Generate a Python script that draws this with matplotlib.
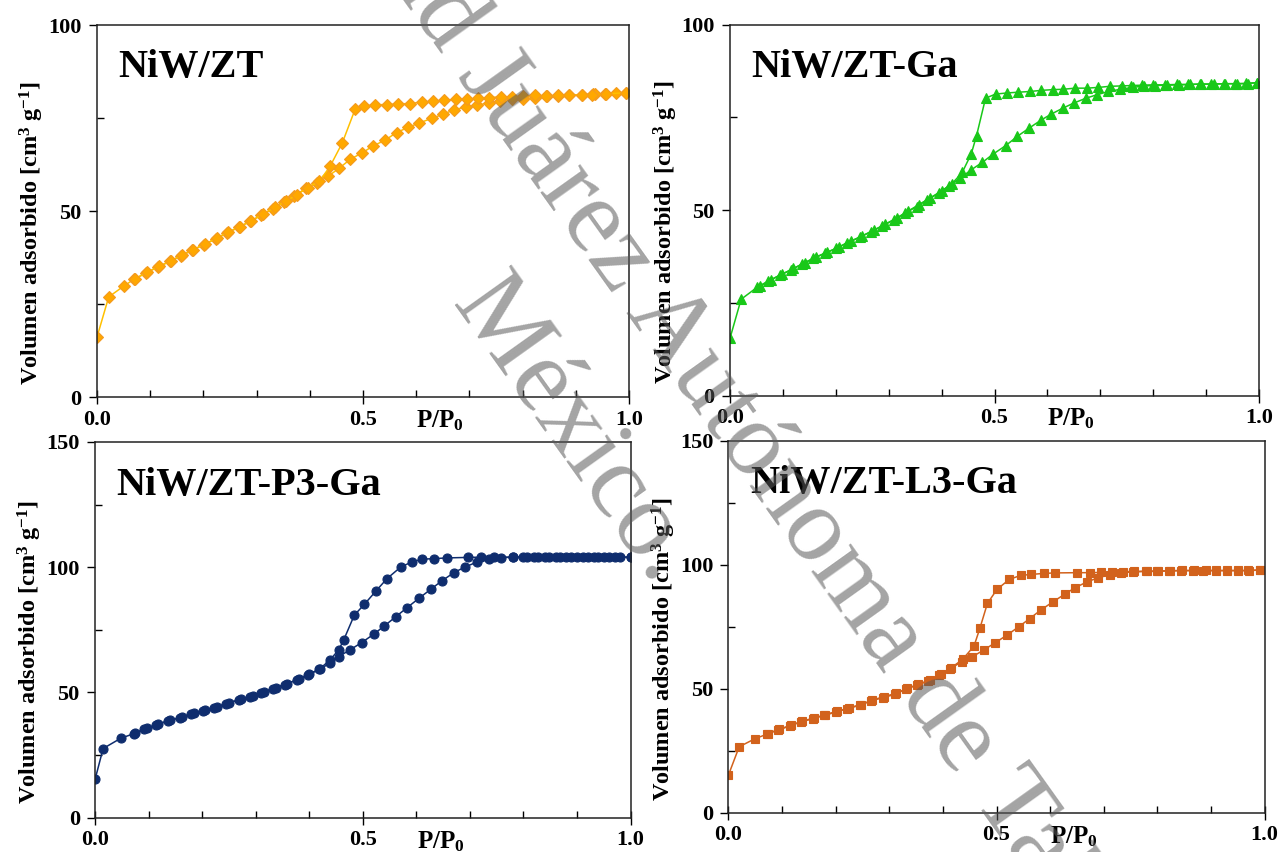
import matplotlib
matplotlib.use('Agg')
from matplotlib import pyplot as plt
from matplotlib.ticker import MultipleLocator, FormatStrFormatter

plt.rcParams['font.family'] = ['Liberation Serif', 'DejaVu Serif']
plt.rcParams['font.weight'] = 'bold'
plt.rcParams['mathtext.fontset'] = 'custom'
plt.rcParams['mathtext.rm'] = 'Liberation Serif:bold'
plt.rcParams['mathtext.it'] = 'Liberation Serif:bold'
plt.rcParams['mathtext.bf'] = 'Liberation Serif:bold'

# NiW/ZT
ads_x_zt = [0.0, 0.022, 0.05, 0.069, 0.092, 0.115, 0.137, 0.158, 0.179, 0.201, 0.223, 0.245, 0.266, 0.288,
            0.309, 0.331, 0.352, 0.371, 0.392, 0.414, 0.435, 0.455, 0.476, 0.499, 0.519, 0.542, 0.563, 0.585,
            0.606, 0.629, 0.650, 0.671, 0.693, 0.714, 0.736, 0.758, 0.780, 0.800, 0.823, 0.845, 0.867, 0.888,
            0.911, 0.933, 0.955, 0.975, 0.994]
ads_y_zt = [16.1, 26.9, 29.8, 31.6, 33.4, 35.0, 36.5, 38.0, 39.5, 41.0, 42.5, 44.1, 45.6, 47.2,
            48.9, 50.6, 52.4, 54.0, 56.1, 57.6, 59.4, 61.5, 63.9, 65.7, 67.5, 69.1, 71.1, 72.5,
            73.7, 74.9, 76.0, 77.2, 78.0, 78.4, 79.1, 79.6, 80.0, 80.2, 80.5, 80.8, 81.0, 81.1,
            81.3, 81.4, 81.5, 81.6, 81.8]
des_x_zt = [0.994, 0.957, 0.936, 0.930, 0.911, 0.888, 0.867, 0.843, 0.823, 0.801, 0.780, 0.759, 0.737, 0.717,
            0.696, 0.674, 0.652, 0.631, 0.610, 0.588, 0.566, 0.545, 0.523, 0.502, 0.485, 0.461, 0.438, 0.418,
            0.396, 0.375, 0.355, 0.335, 0.312, 0.290, 0.268, 0.246, 0.225, 0.203, 0.181, 0.160, 0.139, 0.117,
            0.094, 0.072]
des_y_zt = [81.8, 81.5, 81.4, 81.3, 81.3, 81.2, 81.1, 80.9, 81.1, 80.9, 80.7, 80.7, 80.5, 80.3,
            80.0, 80.0, 79.8, 79.5, 79.3, 78.9, 78.8, 78.6, 78.6, 78.2, 77.3, 68.3, 62.0, 58.0,
            56.3, 54.3, 52.7, 51.0, 49.2, 47.4, 45.8, 44.3, 42.7, 41.1, 39.6, 38.1, 36.6, 35.1,
            33.5, 31.8]

# NiW/ZT-Ga
ads_x_ga = [0.0, 0.021, 0.051, 0.071, 0.094, 0.115, 0.136, 0.157, 0.179, 0.201, 0.222, 0.245, 0.266, 0.288,
            0.310, 0.331, 0.353, 0.373, 0.395, 0.414, 0.435, 0.456, 0.477, 0.498, 0.521, 0.543, 0.565, 0.587,
            0.607, 0.629, 0.650, 0.673, 0.693, 0.715, 0.738, 0.761, 0.782, 0.803, 0.826, 0.849, 0.870, 0.891,
            0.914, 0.936, 0.959, 0.979, 0.997]
ads_y_ga = [15.5, 26.0, 29.2, 30.8, 32.5, 33.9, 35.5, 37.0, 38.4, 39.7, 41.3, 42.7, 44.2, 45.8,
            47.4, 49.2, 51.0, 52.8, 54.6, 56.6, 58.6, 60.9, 62.9, 65.2, 67.4, 69.9, 72.1, 74.2,
            75.9, 77.5, 78.9, 80.2, 81.1, 82.0, 82.6, 83.1, 83.5, 83.6, 83.7, 83.8, 83.9, 84.0,
            84.0, 84.1, 84.1, 84.1, 84.4]
des_x_ga = [0.997, 0.975, 0.955, 0.933, 0.910, 0.888, 0.866, 0.845, 0.823, 0.800, 0.778, 0.757, 0.740, 0.718,
            0.696, 0.674, 0.652, 0.630, 0.610, 0.588, 0.567, 0.544, 0.523, 0.502, 0.483, 0.466, 0.456, 0.439,
            0.420, 0.400, 0.378, 0.357, 0.336, 0.315, 0.293, 0.272, 0.250, 0.228, 0.206, 0.184, 0.162, 0.141,
            0.120, 0.099, 0.077, 0.056]
des_y_ga = [84.4, 84.2, 84.1, 84.1, 84.0, 84.0, 83.9, 83.9, 83.8, 83.8, 83.7, 83.6, 83.5, 83.4,
            83.1, 82.9, 82.9, 82.6, 82.5, 82.3, 82.0, 81.8, 81.6, 81.3, 80.2, 70.1, 65.2, 60.2,
            57.2, 55.2, 53.3, 51.5, 49.7, 47.9, 46.2, 44.6, 43.1, 41.6, 40.1, 38.7, 37.3, 35.8,
            34.3, 32.8, 31.2, 29.5]

# NiW/ZT-P3-Ga
ads_x_p3 = [0.0, 0.015, 0.048, 0.072, 0.091, 0.114, 0.136, 0.158, 0.179, 0.201, 0.223, 0.245, 0.268, 0.289,
            0.310, 0.333, 0.354, 0.377, 0.398, 0.419, 0.438, 0.455, 0.476, 0.498, 0.520, 0.540, 0.562, 0.583,
            0.605, 0.627, 0.648, 0.670, 0.691, 0.714, 0.736, 0.758, 0.781, 0.806, 0.827, 0.848, 0.868, 0.889,
            0.912, 0.931, 0.950, 0.970, 1.0]
ads_y_p3 = [15.3, 27.6, 31.7, 33.5, 35.3, 37.0, 38.6, 39.9, 41.3, 42.6, 43.9, 45.5, 47.0, 48.3,
            49.9, 51.5, 53.1, 55.0, 57.0, 59.2, 61.6, 64.3, 67.0, 69.9, 73.2, 76.5, 80.3, 83.9,
            87.6, 91.2, 94.6, 97.8, 100.1, 102.1, 103.2, 103.8, 104.0, 104.0, 104.0, 104.0, 104.0, 104.0,
            104.0, 104.0, 104.0, 104.0, 104.0]
des_x_p3 = [1.0, 0.980, 0.960, 0.940, 0.920, 0.900, 0.880, 0.860, 0.840, 0.820, 0.800, 0.780, 0.745, 0.720,
            0.697, 0.657, 0.632, 0.611, 0.592, 0.571, 0.545, 0.525, 0.503, 0.484, 0.464, 0.455, 0.438, 0.420,
            0.400, 0.380, 0.358, 0.337, 0.315, 0.294, 0.272, 0.250, 0.228, 0.206, 0.184, 0.162, 0.140, 0.118,
            0.097, 0.075]
des_y_p3 = [104.0, 104.0, 104.0, 104.0, 104.0, 104.0, 104.0, 104.0, 104.0, 104.0, 104.0, 104.0, 104.0, 104.0,
            103.9, 103.7, 103.4, 103.2, 102.1, 100.1, 95.4, 90.6, 85.2, 80.8, 70.8, 67.0, 62.8, 59.5,
            57.3, 55.4, 53.4, 51.8, 50.2, 48.6, 47.3, 45.8, 44.2, 42.9, 41.6, 40.2, 38.9, 37.4,
            35.6, 33.8]

# NiW/ZT-L3-Ga
ads_x_l3 = [0.0, 0.020, 0.050, 0.071, 0.093, 0.115, 0.136, 0.158, 0.179, 0.201, 0.222, 0.245, 0.266, 0.288,
            0.310, 0.331, 0.351, 0.373, 0.393, 0.414, 0.435, 0.455, 0.476, 0.498, 0.520, 0.541, 0.562, 0.583,
            0.605, 0.627, 0.647, 0.668, 0.690, 0.712, 0.733, 0.755, 0.778, 0.800, 0.822, 0.844, 0.866, 0.886,
            0.909, 0.929, 0.951, 0.971, 0.992]
ads_y_l3 = [15.3, 26.7, 30.0, 31.7, 33.5, 35.1, 36.8, 38.0, 39.4, 40.7, 42.1, 43.4, 45.2, 46.5,
            47.8, 49.9, 51.5, 53.2, 55.5, 58.2, 61.0, 63.0, 65.7, 68.7, 71.8, 75.0, 78.4, 81.9,
            85.1, 88.2, 90.9, 93.1, 94.9, 96.1, 96.9, 97.2, 97.4, 97.4, 97.6, 97.7, 97.7, 97.7,
            97.7, 97.7, 97.7, 97.7, 98.0]
des_x_l3 = [0.992, 0.970, 0.950, 0.930, 0.910, 0.890, 0.868, 0.846, 0.824, 0.802, 0.780, 0.757, 0.736, 0.715,
            0.695, 0.674, 0.651, 0.609, 0.588, 0.565, 0.545, 0.524, 0.501, 0.483, 0.469, 0.458, 0.437, 0.416,
            0.396, 0.375, 0.354, 0.333, 0.312, 0.290, 0.268, 0.247, 0.225, 0.203, 0.181, 0.160, 0.138, 0.117,
            0.095, 0.073]
des_y_l3 = [98.0, 97.8, 97.8, 97.8, 97.8, 97.8, 97.8, 97.8, 97.7, 97.6, 97.5, 97.4, 97.3, 97.1,
            97.0, 96.9, 96.9, 96.8, 96.6, 96.2, 95.8, 94.2, 90.2, 84.5, 74.5, 67.3, 62.0, 58.6,
            55.9, 53.6, 51.9, 50.2, 48.2, 46.9, 45.5, 43.7, 42.4, 41.0, 39.7, 38.3, 37.1, 35.4,
            33.8, 32.0]

y_label = r'Volumen adsorbido [cm$^{3}$ g$^{-1}$]'
x_label = r'P/P$_{0}$'


def draw_panel(rect, ads_x, ads_y, des_x, des_y, ymax, title, line_col, face_col, edge_col, marker, ms):
    ax = fig.add_axes(rect)
    ax.plot(ads_x, ads_y, color=line_col, lw=1.1, marker=marker, ms=ms, mfc=face_col, mec=edge_col, mew=0.8)
    ax.plot(des_x, des_y, color=line_col, lw=1.1, marker=marker, ms=ms, mfc=face_col, mec=edge_col, mew=0.8)
    ax.set_xlim(0, 1)
    ax.set_ylim(0, ymax)
    ax.xaxis.set_major_locator(MultipleLocator(0.5))
    ax.xaxis.set_minor_locator(MultipleLocator(0.1))
    ax.xaxis.set_major_formatter(FormatStrFormatter('%.1f'))
    ax.yaxis.set_major_locator(MultipleLocator(50))
    ax.yaxis.set_minor_locator(MultipleLocator(25))
    ax.tick_params(axis='x', which='major', direction='inout', length=10, width=1, pad=4, labelsize=16)
    ax.tick_params(axis='x', which='minor', direction='in', length=5, width=1)
    ax.tick_params(axis='y', which='major', direction='out', length=6, width=1, pad=5, labelsize=16)
    ax.tick_params(axis='y', which='minor', direction='in', length=5, width=1)
    for s in ax.spines.values():
        s.set_linewidth(1.1)
        s.set_color('#222222')
    ax.set_ylabel(y_label, fontsize=17.5, fontweight='bold')
    ax.yaxis.set_label_coords(-0.095, 0.44)
    ax.text(0.645, -0.03, x_label, transform=ax.transAxes, ha='center', va='top', fontsize=18)
    ax.text(0.04, 0.86, title, transform=ax.transAxes, ha='left', va='baseline', fontsize=29, fontweight='bold')
    return ax


fig = plt.figure(figsize=(12.78, 8.52), dpi=100)

draw_panel([0.0759, 0.534, 0.4163, 0.4366], ads_x_zt, ads_y_zt, des_x_zt, des_y_zt, 100, 'NiW/ZT',
           '#FFC000', '#FFA800', '#F39A20', 'D', 6.5)
draw_panel([0.5712, 0.5355, 0.4140, 0.4355], ads_x_ga, ads_y_ga, des_x_ga, des_y_ga, 100, 'NiW/ZT-Ga',
           '#19C819', '#19C819', '#19C819', '^', 7)
draw_panel([0.0744, 0.0403, 0.4190, 0.4410], ads_x_p3, ads_y_p3, des_x_p3, des_y_p3, 150, 'NiW/ZT-P3-Ga',
           '#0F2D6E', '#0F2D6E', '#0F2D6E', 'o', 6.5)
draw_panel([0.5700, 0.0458, 0.4195, 0.4366], ads_x_l3, ads_y_l3, des_x_l3, des_y_l3, 150, 'NiW/ZT-L3-Ga',
           '#D2621C', '#D2621C', '#D2621C', 's', 5.5)

# marca de agua
fig.text(0.492, 0.54, 'Universidad Juárez Autónoma de Tabasco.\nMéxico.', fontsize=76, fontweight='normal',
         color=(0.35, 0.35, 0.35), alpha=0.55, rotation=-54.5, rotation_mode='anchor',
         ha='center', va='center', multialignment='center', linespacing=1.55, zorder=10)

fig.savefig('out.png', dpi=100)
